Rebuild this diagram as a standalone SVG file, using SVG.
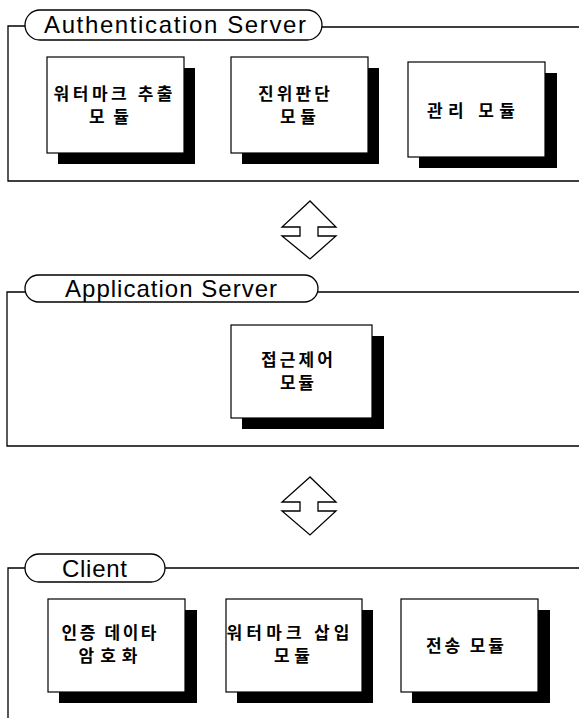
<svg xmlns="http://www.w3.org/2000/svg" width="579" height="718" viewBox="0 0 579 718">
<style>
.frame{fill:none;stroke:#000;stroke-width:1.3}
.pill{fill:#fff;stroke:#000;stroke-width:1.3}
.ptxt{font-family:"Liberation Sans",Arial,sans-serif;font-size:24px;fill:#000}
.box{fill:#fff;stroke:#000;stroke-width:1.2}
.shadow{fill:#000}
.ktxt{font-family:"Noto Sans CJK KR","Noto Sans",sans-serif;font-size:17px;font-weight:bold;fill:#000;text-anchor:middle}
.arrow{fill:#fff;stroke:#000;stroke-width:1.3;stroke-linejoin:miter}
</style>
<rect width="579" height="718" fill="#fff"/>

<g id="auth-server">
<path class="frame" d="M579,27 L320,27 M27,26 L8,26 L8,181 L579,181"/>
<rect class="pill" x="25" y="10" width="297" height="30" rx="15" ry="15"/>
<text class="ptxt" x="44" y="33" textLength="262" lengthAdjust="spacing">Authentication Server</text>
</g>

<g id="watermark-extract">
<rect class="shadow" x="58" y="68" width="137" height="96"/>
<rect class="box" x="47" y="57" width="137" height="96"/>
<text class="ktxt" x="113" y="100" textLength="119" lengthAdjust="spacing">워터마크 추출</text>
<text class="ktxt" x="109" y="123" textLength="40" lengthAdjust="spacing">모듈</text>
</g>

<g id="authenticity">
<rect class="shadow" x="242" y="68" width="137" height="96"/>
<rect class="box" x="231" y="57" width="137" height="96"/>
<text class="ktxt" x="294" y="100" textLength="72" lengthAdjust="spacing">진위판단</text>
<text class="ktxt" x="298" y="123" textLength="36" lengthAdjust="spacing">모듈</text>
</g>

<g id="management">
<rect class="shadow" x="419" y="73" width="138" height="95"/>
<rect class="box" x="408" y="62" width="137" height="95"/>
<text class="ktxt" x="471" y="117" textLength="88" lengthAdjust="spacing">관리 모듈</text>
</g>

<g id="app-server">
<path class="frame" d="M579,292 L316,292 M27,292 L7,292 L7,446 L579,446"/>
<rect class="pill" x="25" y="275" width="293" height="27" rx="13.5" ry="13.5"/>
<text class="ptxt" x="65" y="297" textLength="212" lengthAdjust="spacing">Application Server</text>
</g>

<g id="access-control">
<rect class="shadow" x="242" y="336" width="142" height="93"/>
<rect class="box" x="231" y="325" width="141" height="93"/>
<text class="ktxt" x="297" y="366" textLength="72" lengthAdjust="spacing">접근제어</text>
<text class="ktxt" x="297" y="389" textLength="34" lengthAdjust="spacing">모듈</text>
</g>

<g id="client">
<path class="frame" d="M579,568 L162,568 M27,568 L8,568 L8,718"/>
<rect class="pill" x="25" y="554" width="140" height="28" rx="14" ry="14"/>
<text class="ptxt" x="62" y="577" textLength="65" lengthAdjust="spacing">Client</text>
</g>

<g id="auth-data-encrypt">
<rect class="shadow" x="59" y="610" width="138" height="93"/>
<rect class="box" x="48" y="599" width="137" height="93"/>
<text class="ktxt" x="109" y="639" textLength="95" lengthAdjust="spacing">인증 데이타</text>
<text class="ktxt" x="108" y="662" textLength="59" lengthAdjust="spacing">암호화</text>
</g>

<g id="watermark-insert">
<rect class="shadow" x="237" y="610" width="136" height="93"/>
<rect class="box" x="226" y="599" width="136" height="93"/>
<text class="ktxt" x="288" y="639" textLength="123" lengthAdjust="spacing">워터마크 삽입</text>
<text class="ktxt" x="292" y="662" textLength="36" lengthAdjust="spacing">모듈</text>
</g>

<g id="transmit">
<rect class="shadow" x="412" y="610" width="138" height="93"/>
<rect class="box" x="401" y="599" width="137" height="93"/>
<text class="ktxt" x="465" y="652" textLength="78" lengthAdjust="spacing">전송 모듈</text>
</g>

<g id="connectors">
<path class="arrow" d="M310,201 L282,227 L300,227 L300,236 L282,236 L310,259 L336,236 L318,236 L318,227 L336,227 Z"/>
<path class="arrow" d="M310,477 L282,502 L300,502 L300,511 L282,511 L310,535 L336,511 L318,511 L318,502 L336,502 Z"/>
</g>
</svg>
